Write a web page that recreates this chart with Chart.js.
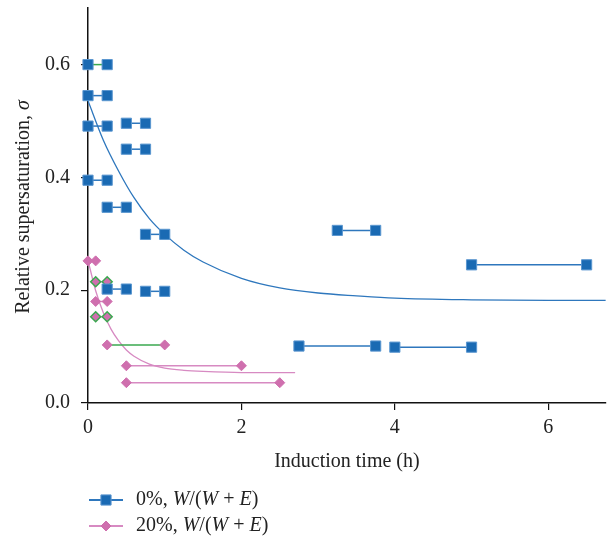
<!DOCTYPE html>
<html>
<head>
<meta charset="utf-8">
<script src="https://cdn.jsdelivr.net/npm/chart.js@4/dist/chart.umd.min.js"></script>
<style>
  html, body { margin: 0; padding: 0; background: #fff; }
</style>
</head>
<body>
<canvas id="chart" width="614" height="536"></canvas>
<script>
// 0% W/(W+E): each measurement is a horizontal bar from start to end time
const blueSigma = [0.600, 0.545, 0.491, 0.496, 0.450, 0.395, 0.347, 0.299, 0.306, 0.245, 0.202, 0.198, 0.101, 0.099];
const blueStart = [0, 0, 0, 0.5, 0.5, 0, 0.25, 0.75, 3.25, 5, 0.25, 0.75, 2.75, 4];
const blueEnd   = [0.25, 0.25, 0.25, 0.75, 0.75, 0.25, 0.5, 1.0, 3.75, 6.5, 0.5, 1.0, 3.75, 5];

// 20% W/(W+E)
const pinkSigma = [0.252, 0.215, 0.180, 0.153, 0.103, 0.066, 0.036];
const pinkStart = [0, 0.1, 0.1, 0.1, 0.25, 0.5, 0.5];
const pinkEnd   = [0.1, 0.25, 0.25, 0.25, 1.0, 2.0, 2.5];

// fitted curves
const blueFitX = [0, 0.2, 0.4, 0.6, 0.8, 1.0, 1.25, 1.5, 2.0, 2.5, 3.0, 3.5, 4.0, 5.0, 6.0, 6.75];
const blueFitY = [0.536, 0.466, 0.411, 0.364, 0.327, 0.299, 0.271, 0.250, 0.221, 0.204, 0.195, 0.190, 0.186, 0.183, 0.182, 0.182];
const pinkFitX = [0, 0.1, 0.2, 0.3, 0.4, 0.5, 0.6, 0.8, 1.0, 1.25, 1.5, 2.0, 2.7];
const pinkFitY = [0.253, 0.199, 0.160, 0.131, 0.110, 0.094, 0.083, 0.069, 0.062, 0.058, 0.056, 0.054, 0.054];

const xTicks = [0, 2, 4, 6];
const yTicks = [0, 0.2, 0.4, 0.6];

const xTitle = 'Induction time (h)';
const yTitle = [['Relative supersaturation, ', false], ['\u03c3', true]];
const legendItems = [
  [['0%, ', false], ['W', true], ['/(', false], ['W', true], [' + ', false], ['E', true], [')', false]],
  [['20%, ', false], ['W', true], ['/(', false], ['W', true], [' + ', false], ['E', true], [')', false]]
];

// pairs drawn in green in the original
const greenBlueLines = [0];
const greenPinkLines = [4];
const greenPinkOutline = [1, 3];

const BLUE = '#1a6ab3';
const BLUE_EDGE = '#5b97d0';
const BLUE_LINE = '#2e77bd';
const PINK = '#cf6fae';
const PINK_LINE = '#d78ac2';
const GREEN = '#3aa94f';
const SERIF = '"Liberation Serif", "DejaVu Serif", serif';

const datasets = [];

blueSigma.forEach((s, i) => {
  datasets.push({
    data: [{ x: blueStart[i], y: s }, { x: blueEnd[i], y: s }],
    showLine: true,
    borderColor: greenBlueLines.includes(i) ? GREEN : BLUE_LINE,
    borderWidth: 1.5,
    pointStyle: 'rect',
    pointRadius: 7.2,
    pointBackgroundColor: BLUE,
    pointBorderColor: BLUE_EDGE,
    pointBorderWidth: 1,
    clip: false
  });
});

pinkSigma.forEach((s, i) => {
  datasets.push({
    data: [{ x: pinkStart[i], y: s }, { x: pinkEnd[i], y: s }],
    showLine: true,
    borderColor: greenPinkLines.includes(i) ? GREEN : PINK_LINE,
    borderWidth: 1.5,
    pointStyle: 'rectRot',
    pointRadius: 5,
    pointBackgroundColor: PINK,
    pointBorderColor: greenPinkOutline.includes(i) ? GREEN : PINK,
    pointBorderWidth: greenPinkOutline.includes(i) ? 1.5 : 1,
    clip: false
  });
});

datasets.push({
  data: blueFitX.map((x, i) => ({ x: x, y: blueFitY[i] })),
  showLine: true,
  borderColor: BLUE_LINE,
  borderWidth: 1.3,
  pointRadius: 0,
  cubicInterpolationMode: 'monotone'
});
datasets.push({
  data: pinkFitX.map((x, i) => ({ x: x, y: pinkFitY[i] })),
  showLine: true,
  borderColor: PINK_LINE,
  borderWidth: 1.3,
  pointRadius: 0,
  cubicInterpolationMode: 'monotone'
});

function drawParts(ctx, parts, x, y, size) {
  parts.forEach(([t, italic]) => {
    ctx.font = (italic ? 'italic ' : '') + size + 'px ' + SERIF;
    ctx.fillText(t, x, y);
    x += ctx.measureText(t).width;
  });
}

function partsWidth(ctx, parts, size) {
  let w = 0;
  parts.forEach(([t, italic]) => {
    ctx.font = (italic ? 'italic ' : '') + size + 'px ' + SERIF;
    w += ctx.measureText(t).width;
  });
  return w;
}

const extras = {
  id: 'extras',
  afterDraw(chart) {
    const ctx = chart.ctx;
    ctx.save();
    ctx.fillStyle = '#222';
    ctx.textBaseline = 'middle';
    ctx.textAlign = 'left';

    // y axis title with italic sigma
    const w = partsWidth(ctx, yTitle, 20);
    ctx.save();
    ctx.translate(24, 207);
    ctx.rotate(-Math.PI / 2);
    drawParts(ctx, yTitle, -w / 2, 0, 20);
    ctx.restore();

    // legend
    const rows = [500, 526];
    const styles = [
      { line: BLUE_LINE, fill: BLUE, edge: BLUE_EDGE, shape: 'rect', r: 7.2 },
      { line: PINK_LINE, fill: PINK, edge: PINK, shape: 'rectRot', r: 5 }
    ];
    legendItems.forEach((parts, i) => {
      const y = rows[i];
      const st = styles[i];
      ctx.strokeStyle = st.line;
      ctx.lineWidth = 1.8;
      ctx.beginPath();
      ctx.moveTo(89, y);
      ctx.lineTo(123, y);
      ctx.stroke();
      ctx.fillStyle = st.fill;
      ctx.strokeStyle = st.edge;
      ctx.lineWidth = 1;
      Chart.helpers.drawPoint(ctx, { pointStyle: st.shape, radius: st.r, borderWidth: 1 }, 106, y);
      ctx.fillStyle = '#222';
      drawParts(ctx, parts, 136, y, 20);
    });
    ctx.restore();
  }
};

new Chart(document.getElementById('chart'), {
  type: 'scatter',
  data: { datasets: datasets },
  plugins: [extras],
  options: {
    responsive: false,
    animation: false,
    layout: { padding: { left: 0, right: 7, top: 8, bottom: 62 } },
    plugins: {
      legend: { display: false },
      tooltip: { enabled: false }
    },
    scales: {
      x: {
        type: 'linear',
        min: 0,
        max: 6.75,
        afterBuildTicks: s => { s.ticks = xTicks.map(v => ({ value: v })); },
        afterFit: s => { s.height = 71; s.paddingLeft = 0; s.paddingRight = 0; },
        grid: { drawOnChartArea: false, drawTicks: true, tickLength: 7, color: '#111', lineWidth: 1.2 },
        border: { color: '#111', width: 1.5 },
        ticks: { color: '#222', padding: 6, font: { family: SERIF, size: 20 } },
        title: { display: true, text: xTitle, color: '#222', padding: 0, font: { family: SERIF, size: 20 } }
      },
      y: {
        type: 'linear',
        min: 0,
        max: 0.7,
        afterBuildTicks: s => { s.ticks = yTicks.map(v => ({ value: v })); },
        afterFit: s => { s.width = 88; s.paddingTop = 0; s.paddingBottom = 0; },
        grid: { drawOnChartArea: false, drawTicks: true, tickLength: 7, color: '#111', lineWidth: 1.2 },
        border: { color: '#111', width: 1.5 },
        ticks: { color: '#222', padding: 11, font: { family: SERIF, size: 20 }, callback: v => v.toFixed(1) }
      }
    }
  }
});
</script>
</body>
</html>
